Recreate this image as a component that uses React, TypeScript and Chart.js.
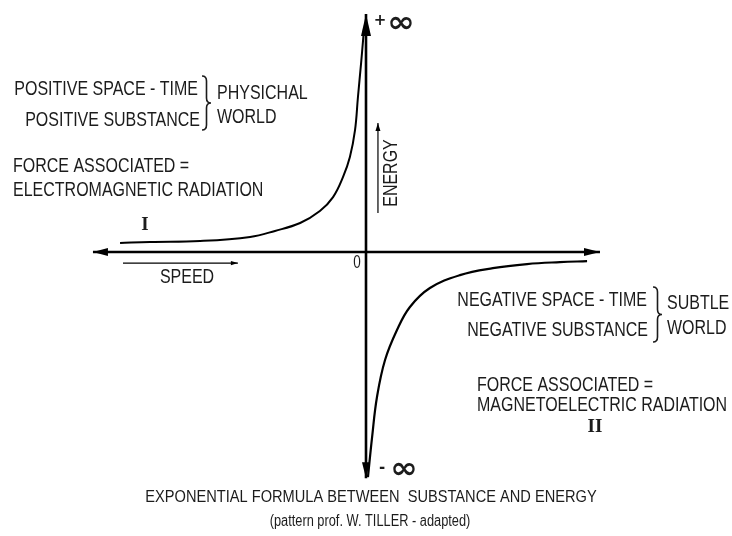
import React, { useEffect, useRef } from "react";
import { Chart, registerables } from "chart.js";

Chart.register(...registerables);

// ---- data (abstract speed / energy units) ----
const curveIX = [-10.08, -8.85, -6.8, -4.75, -3.73, -2.7, -1.89, -1.35, -0.94, -0.66, -0.45, -0.33, -0.2, -0.12, -0.08];
const curveIY = [0.38, 0.42, 0.46, 0.63, 0.88, 1.21, 1.71, 2.29, 3.13, 3.96, 5.08, 6.46, 7.88, 8.83, 9.33];
const curveIIX = [0.08, 0.25, 0.45, 0.78, 1.27, 1.8, 2.62, 3.85, 5.2, 6.6, 7.95, 9.06];
const curveIIY = [-9.38, -7.71, -6.04, -4.5, -3.25, -2.29, -1.5, -0.96, -0.67, -0.5, -0.42, -0.38];
const speedAxis = [-11.19, 9.59];
const energyAxis = [-9.42, 9.92];
const speedIndicatorX = [-9.96, -5.25];
const speedIndicatorY = -0.46;
const energyIndicatorY = [1.63, 5.38];
const energyIndicatorX = 0.49;

// ---- texts ----
const positiveLines = ["POSITIVE SPACE - TIME", "POSITIVE SUBSTANCE"];
const physicalWorld = ["PHYSICHAL", "WORLD"];
const forceI = ["FORCE ASSOCIATED =", "ELECTROMAGNETIC RADIATION"];
const negativeLines = ["NEGATIVE SPACE - TIME", "NEGATIVE SUBSTANCE"];
const subtleWorld = ["SUBTLE", "WORLD"];
const forceII = ["FORCE ASSOCIATED =", "MAGNETOELECTRIC RADIATION"];
const captionLines = ["EXPONENTIAL FORMULA BETWEEN  SUBSTANCE AND ENERGY", "(pattern prof. W. TILLER - adapted)"];
const regionLabels = ["I", "II"];
const axisLabels = ["SPEED", "ENERGY", "0", "+\u221E", "-\u221E"];

const INK = "#1c1c1c";
const SANS = '"Liberation Sans", Arial, sans-serif';

function pts(xs: number[], ys: number[]) {
  return xs.map((x, i) => ({ x, y: ys[i] }));
}

function txt(ctx: CanvasRenderingContext2D, s: string, x: number, y: number, align: CanvasTextAlign, size: number, k = 0.8, font = SANS, weight = "normal") {
  ctx.save();
  ctx.translate(x, y);
  ctx.scale(k, 1);
  ctx.font = `${weight} ${size}px ${font}`;
  ctx.textAlign = align;
  ctx.textBaseline = "middle";
  ctx.fillStyle = INK;
  ctx.fillText(s, 0, 0);
  ctx.restore();
}

function brace(ctx: CanvasRenderingContext2D, x: number, yTop: number, yBot: number, w: number) {
  const mid = (yTop + yBot) / 2;
  const r = 5;
  ctx.save();
  ctx.strokeStyle = INK;
  ctx.lineWidth = 1.6;
  ctx.beginPath();
  ctx.moveTo(x, yTop);
  ctx.quadraticCurveTo(x + w * 0.5, yTop, x + w * 0.5, yTop + r);
  ctx.lineTo(x + w * 0.5, mid - r);
  ctx.quadraticCurveTo(x + w * 0.5, mid, x + w, mid);
  ctx.quadraticCurveTo(x + w * 0.5, mid, x + w * 0.5, mid + r);
  ctx.lineTo(x + w * 0.5, yBot - r);
  ctx.quadraticCurveTo(x + w * 0.5, yBot, x, yBot);
  ctx.stroke();
  ctx.restore();
}

function arrow(ctx: CanvasRenderingContext2D, tx: number, ty: number, dx: number, dy: number, len: number, hw: number) {
  const bx = tx - dx * len;
  const by = ty - dy * len;
  const nx = -dy;
  const ny = dx;
  ctx.beginPath();
  ctx.moveTo(tx, ty);
  ctx.lineTo(bx + nx * hw, by + ny * hw);
  ctx.lineTo(bx - nx * hw, by - ny * hw);
  ctx.closePath();
  ctx.fill();
}

const decorPlugin = {
  id: "decor",
  afterDatasetsDraw(chart: any) {
    const ctx: CanvasRenderingContext2D = chart.ctx;
    const xs = chart.scales.x;
    const ys = chart.scales.y;
    const X = (v: number) => xs.getPixelForValue(v);
    const Y = (v: number) => ys.getPixelForValue(v);
    ctx.save();
    ctx.fillStyle = "#000";
    // axis arrowheads
    arrow(ctx, X(speedAxis[0]), Y(0), -1, 0, 15, 4);
    arrow(ctx, X(speedAxis[1]), Y(0), 1, 0, 16, 4);
    arrow(ctx, X(0), Y(energyAxis[1]), 0, -1, 22, 5);
    arrow(ctx, X(0), Y(energyAxis[0]), 0, 1, 16, 4);
    // indicator arrowheads
    arrow(ctx, X(speedIndicatorX[1]), Y(speedIndicatorY), 1, 0, 7, 2.2);
    arrow(ctx, X(energyIndicatorX), Y(energyIndicatorY[1]), 0, -1, 8, 2.5);
    ctx.restore();

    // upper left block
    txt(ctx, positiveLines[0], 198, 89, "right", 20);
    txt(ctx, positiveLines[1], 200, 120, "right", 20);
    brace(ctx, 202, 76, 130, 9);
    txt(ctx, physicalWorld[0], 217, 93, "left", 20);
    txt(ctx, physicalWorld[1], 217, 117, "left", 20);
    txt(ctx, forceI[0], 13, 166, "left", 20);
    txt(ctx, forceI[1], 13, 190, "left", 20);

    // lower right block
    txt(ctx, negativeLines[0], 647, 300, "right", 20);
    txt(ctx, negativeLines[1], 648, 330, "right", 20);
    brace(ctx, 653, 287, 342, 9);
    txt(ctx, subtleWorld[0], 667, 303, "left", 20);
    txt(ctx, subtleWorld[1], 667, 328, "left", 20);
    txt(ctx, forceII[0], 477, 385, "left", 20);
    txt(ctx, forceII[1], 477, 405, "left", 20);

    // region numerals
    txt(ctx, regionLabels[0], 145, 225, "center", 19, 1, '"Liberation Serif", serif', "bold");
    txt(ctx, regionLabels[1], 595, 427, "center", 19, 1, '"Liberation Serif", serif', "bold");

    // axis labels
    txt(ctx, axisLabels[0], 187, 277, "center", 20);
    ctx.save();
    ctx.translate(391, 173);
    ctx.rotate(-Math.PI / 2);
    txt(ctx, axisLabels[1], 0, 0, "center", 20);
    ctx.restore();
    txt(ctx, axisLabels[2], 357, 263, "center", 18, 0.75);
    txt(ctx, "+", 380, 21, "center", 15, 1, '"DejaVu Sans", sans-serif', "bold");
    txt(ctx, "\u221E", 401, 24, "center", 30, 1.1, '"DejaVu Sans", sans-serif', "bold");
    txt(ctx, "-", 382, 468, "center", 15, 1, '"DejaVu Sans", sans-serif', "bold");
    txt(ctx, "\u221E", 404, 470, "center", 30, 1.1, '"DejaVu Sans", sans-serif', "bold");

    // caption
    txt(ctx, captionLines[0], 371, 497, "center", 17, 0.86);
    txt(ctx, captionLines[1], 370, 522, "center", 16, 0.8);
  },
};

export default function App() {
  const ref = useRef<HTMLCanvasElement | null>(null);
  useEffect(() => {
    if (!ref.current) return;
    const line = (data: any[], width: number, tension = 0) => ({
      type: "scatter" as const,
      data,
      showLine: true,
      borderColor: "#000",
      backgroundColor: "#000",
      borderWidth: width,
      pointRadius: 0,
      tension,
      fill: false,
    });
    const chart = new Chart(ref.current, {
      type: "scatter",
      data: {
        datasets: [
          line([{ x: speedAxis[0], y: 0 }, { x: speedAxis[1], y: 0 }], 2.4),
          line([{ x: 0, y: energyAxis[0] }, { x: 0, y: energyAxis[1] }], 2.6),
          line(pts(curveIX, curveIY), 2, 0.4),
          line(pts(curveIIX, curveIIY), 2.2, 0.4),
          line(speedIndicatorX.map((x) => ({ x, y: speedIndicatorY })), 1.2),
          line(energyIndicatorY.map((y) => ({ x: energyIndicatorX, y })), 1.2),
        ] as any,
      },
      options: {
        animation: false,
        responsive: false,
        maintainAspectRatio: false,
        layout: { padding: 0 },
        plugins: { legend: { display: false }, tooltip: { enabled: false }, title: { display: false } },
        scales: {
          x: { type: "linear", min: -15, max: 15, display: false },
          y: { type: "linear", min: -11.83, max: 10.5, display: false },
        },
      },
      plugins: [decorPlugin],
    });
    return () => chart.destroy();
  }, []);
  return (
    <div style={{ position: "fixed", left: 0, top: 0, width: 732, height: 536, background: "#fff" }}>
      <canvas ref={ref} width={732} height={536} style={{ width: 732, height: 536, display: "block" }} />
    </div>
  );
}
